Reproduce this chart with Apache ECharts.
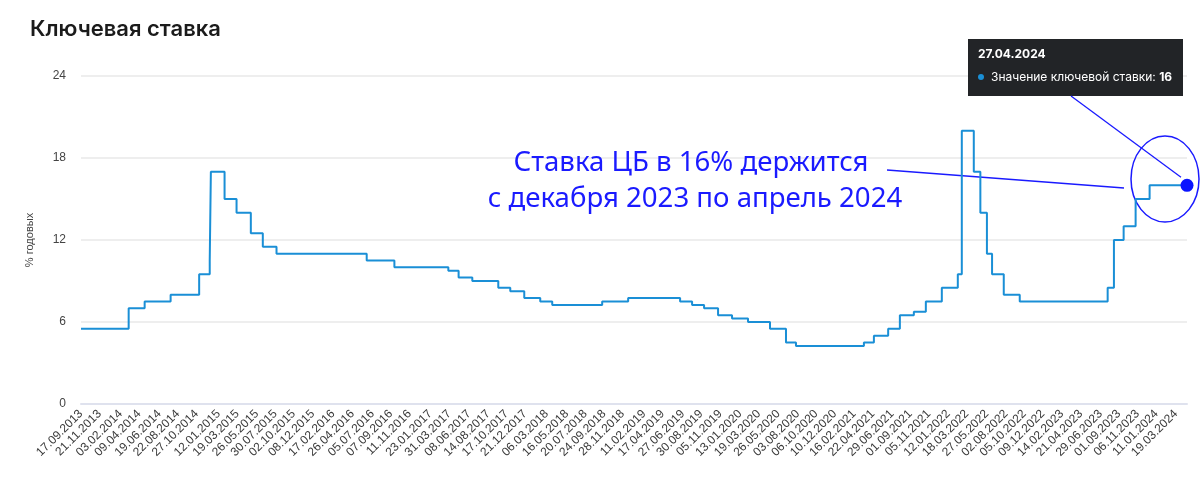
<!DOCTYPE html>
<html>
<head>
<meta charset="utf-8">
<script src="https://cdn.jsdelivr.net/npm/echarts@6/dist/echarts.min.js"></script>
<style>
html,body{margin:0;padding:0;background:#fff;}
#c{width:1200px;height:477px;}
</style>
</head>
<body>
<div id="c"></div>
<script>
// Key rate change dates and values (step series)
const changeDates = ['17.09.2013','03.03.2014','28.04.2014','28.07.2014','05.11.2014','12.12.2014','16.12.2014',
  '02.02.2015','16.03.2015','05.05.2015','16.06.2015','03.08.2015','14.06.2016','19.09.2016',
  '27.03.2017','02.05.2017','19.06.2017','18.09.2017','30.10.2017','18.12.2017',
  '12.02.2018','26.03.2018','17.09.2018','17.12.2018',
  '17.06.2019','29.07.2019','09.09.2019','28.10.2019','16.12.2019',
  '10.02.2020','27.04.2020','22.06.2020','27.07.2020',
  '22.03.2021','26.04.2021','15.06.2021','26.07.2021','13.09.2021','25.10.2021','20.12.2021',
  '14.02.2022','28.02.2022','11.04.2022','04.05.2022','27.05.2022','14.06.2022','25.07.2022','19.09.2022',
  '24.07.2023','15.08.2023','18.09.2023','30.10.2023','18.12.2023','27.04.2024'];
const rateValues = [5.5,7.0,7.5,8.0,9.5,10.5,17.0,
  15.0,14.0,12.5,11.5,11.0,10.5,10.0,
  9.75,9.25,9.0,8.5,8.25,7.75,
  7.5,7.25,7.5,7.75,
  7.5,7.25,7.0,6.5,6.25,
  6.0,5.5,4.5,4.25,
  4.5,5.0,5.5,6.5,6.75,7.5,8.5,
  9.5,20.0,17.0,14.0,11.0,9.5,8.0,7.5,
  8.5,12.0,13.0,15.0,16.0,16.0];
const tickLabels = ['17.09.2013','21.11.2013','03.02.2014','09.04.2014','19.06.2014','22.08.2014','27.10.2014',
  '12.01.2015','19.03.2015','26.05.2015','30.07.2015','02.10.2015','08.12.2015','17.02.2016','26.04.2016',
  '05.07.2016','07.09.2016','11.11.2016','23.01.2017','31.03.2017','08.06.2017','14.08.2017','17.10.2017',
  '21.12.2017','06.03.2018','16.05.2018','20.07.2018','24.09.2018','28.11.2018','11.02.2019','17.04.2019',
  '27.06.2019','30.08.2019','05.11.2019','13.01.2020','19.03.2020','26.05.2020','03.08.2020','06.10.2020',
  '10.12.2020','16.02.2021','22.04.2021','29.06.2021','01.09.2021','05.11.2021','12.01.2022','18.03.2022',
  '27.05.2022','02.08.2022','05.10.2022','09.12.2022','14.02.2023','21.04.2023','29.06.2023','01.09.2023',
  '06.11.2023','11.01.2024','19.03.2024'];
const yTicks = [0, 6, 12, 18, 24];
const tooltipDate = '27.04.2024';
const tooltipValue = 16;

function parseD(s){ const p = s.split('.'); return new Date(+p[2], +p[1]-1, +p[0]).getTime(); }
function fmtD(t){ const d = new Date(Math.round(t)); const z = n => (n<10?'0':'')+n; return z(d.getDate())+'.'+z(d.getMonth()+1)+'.'+d.getFullYear(); }

const seriesData = changeDates.map((d,i)=>[parseD(d), rateValues[i]]);
const lastPoint = seriesData[seriesData.length-1];

const chart = echarts.init(document.getElementById('c'), null, {renderer:'canvas'});
chart.setOption({
  animation:false,
  backgroundColor:'#fff',
  title:{text:'Ключевая ставка', left:25, top:13,
    textStyle:{fontFamily:'Inter', fontSize:22, fontWeight:600, color:'#1b1b1b'}},
  grid:{left:81, right:13, top:76, bottom:73, containLabel:false},
  xAxis:{
    type:'value',
    min:parseD(changeDates[0]), max:lastPoint[0],
    axisLine:{show:true, lineStyle:{color:'#dfe2ee', width:2}},
    axisTick:{show:false},
    splitLine:{show:false},
    axisLabel:{
      customValues: tickLabels.map(parseD),
      formatter: v => fmtD(v),
      rotate:45, margin:8, fontFamily:'Liberation Sans, Arial', fontSize:12, color:'#3a3a3a',
      showMinLabel:true, showMaxLabel:true, hideOverlap:false
    }
  },
  yAxis:{
    type:'value', min:yTicks[0], max:yTicks[yTicks.length-1], interval:6,
    name:'% годовых', nameLocation:'middle', nameGap:46,
    nameTextStyle:{fontFamily:'Liberation Sans, Arial', fontSize:11, color:'#444'},
    axisLine:{show:false}, axisTick:{show:false},
    axisLabel:{margin:15, fontFamily:'Liberation Sans, Arial', fontSize:12, color:'#444'},
    splitLine:{lineStyle:{color:'#eeeeee', width:2}}
  },
  series:[{
    type:'line', step:'end', data:seriesData, showSymbol:false, symbol:'none',
    lineStyle:{color:'#1a8fd6', width:2},
    markPoint:{
      symbol:'circle', symbolSize:13, silent:true,
      itemStyle:{color:'#0a14ff'},
      label:{show:false},
      data:[{coord:lastPoint}]
    }
  }]
});

const dot = chart.convertToPixel({seriesIndex:0}, lastPoint);
const blue = '#1a1aff';
chart.setOption({
  graphic:[
    {type:'text', x:691, y:163, style:{text:'Ставка ЦБ в 16% держится', fill:blue,
      font:'27.6px "Noto Sans"', align:'center', verticalAlign:'middle'}},
    {type:'text', x:695, y:199, style:{text:'с декабря 2023 по апрель 2024', fill:blue,
      font:'27.6px "Noto Sans"', align:'center', verticalAlign:'middle'}},
    {type:'line', shape:{x1:887, y1:170, x2:1124, y2:188}, style:{stroke:'#1a1aff', lineWidth:1.3}},
    {type:'ellipse', shape:{cx:1165, cy:179, rx:34, ry:43}, style:{fill:null, stroke:'#1a1aff', lineWidth:1.5}},
    {type:'line', shape:{x1:1071, y1:96, x2:dot[0]-6, y2:dot[1]-8}, style:{stroke:'#1a1aff', lineWidth:1.3}, z:10},
    {type:'group', x:968, y:39, z:100, children:[
      {type:'rect', shape:{x:0, y:0, width:215, height:57}, style:{fill:'#222427'}},
      {type:'text', x:10, y:15, style:{text:tooltipDate, fill:'#fff', font:'bold 12px Inter', verticalAlign:'middle'}},
      {type:'circle', shape:{cx:13, cy:38, r:3}, style:{fill:'#1a8fd6'}},
      {type:'text', x:23, y:38, style:{rich:{a:{fill:'#fff', font:'12px Inter'}, b:{fill:'#fff', font:'bold 12px Inter'}},
        text:'{a|Значение ключевой ставки: }{b|'+tooltipValue+'}', verticalAlign:'middle'}}
    ]}
  ]
});
</script>
</body>
</html>
